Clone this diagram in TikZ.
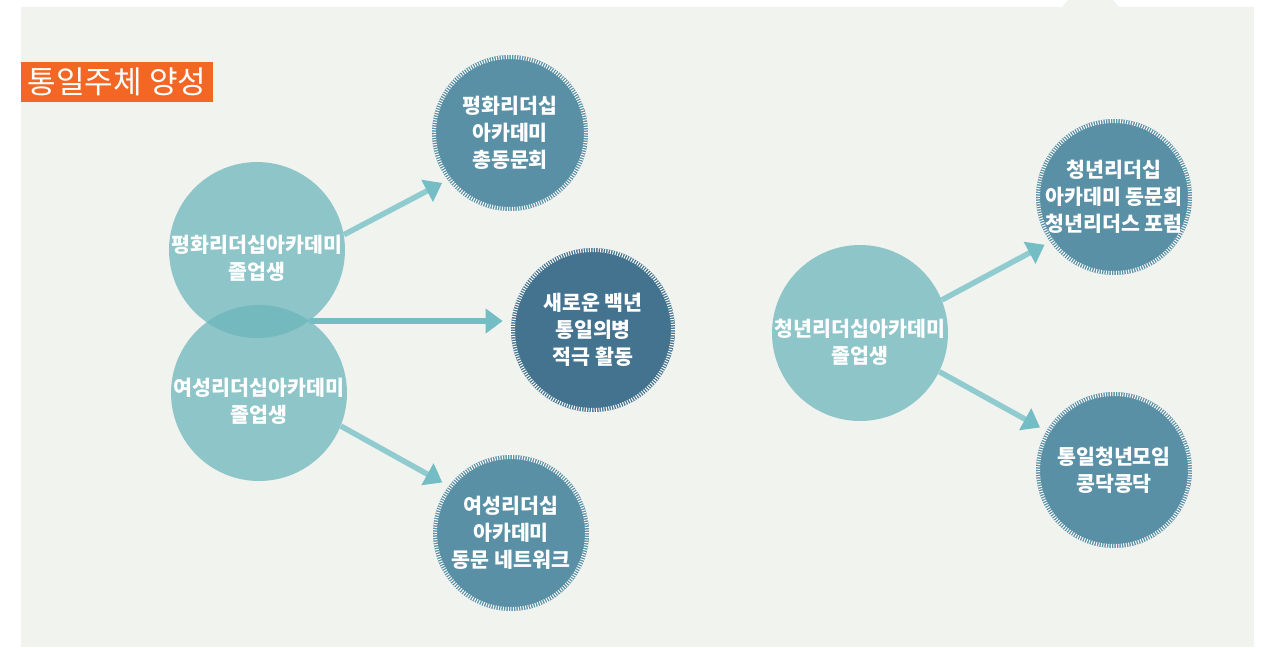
\documentclass[tikz,border=0pt]{standalone}
\usepackage{fontspec}
\newfontfamily\kr{Noto Sans CJK KR}
\usetikzlibrary{arrows.meta}
\definecolor{panelbg}{HTML}{F1F3EF}
\definecolor{titleorange}{HTML}{F36623}
\definecolor{gradfill}{RGB}{107,181,187}
\definecolor{clubfill}{HTML}{5A90A6}
\definecolor{clubdeep}{HTML}{44738F}
\definecolor{arrowline}{HTML}{8FCBCF}
\definecolor{tiphead}{HTML}{74BDC4}
\begin{document}
\begin{tikzpicture}[
    x=0.02cm, y=-0.02cm,
    grad/.style={circle, fill=gradfill, fill opacity=0.74, inner sep=0pt, minimum size=3.52cm},
    gradtext/.style={align=center, text=white, inner sep=0pt, font=\kr\bfseries\fontsize{11.7}{15.4}\selectfont},
    club/.style={circle, fill=clubfill, inner sep=-0.3cm, minimum size=2*#1, align=center, text=white, font=\kr\bfseries\fontsize{11.7}{15.4}\selectfont,
        path picture={\draw[white, line width=0.08cm, dash pattern=on 0.02cm off 0.03cm] (path picture bounding box.center) circle[radius=#1-0.04cm];}},
    club/.default=1.56cm,
    arrow/.style={-{Triangle[length=0.34cm, width=0.48cm, color=tiphead]}, line width=0.11cm, draw=arrowline}
]
    % Panel
    \useasboundingbox (0,0) rectangle (1264,647);
    \fill[white] (0,0) rectangle (1264,647);
    \fill[panelbg] (21,7) rectangle (1254,647);
    \fill[panelbg] (1062,7) -- (1068,0) -- (1113,0) -- (1119,7) -- cycle;

    % Title
    \node[fill=titleorange, text=white, minimum width=3.84cm, minimum height=0.8cm, inner sep=0pt, font=\kr\fontsize{17.7}{20}\selectfont] (title) at (117,82) {통일주체 양성};

    % Graduates
    \node[grad] (pg1) at (257,250) {};
    \node[grad] (pg2) at (259,393) {};
    \node[grad] (pg3) at (860,333) {};
    \node[gradtext] (pg1t) at (257,258) {평화리더십아카데미\\졸업생};
    \node[gradtext] (pg2t) at (259,401) {여성리더십아카데미\\졸업생};
    \node[gradtext] (pg3t) at (860,342) {청년리더십아카데미\\졸업생};

    % Activities
    \node[club] (pc1) at (510,133) {평화리더십\\아카데미\\총동문회};
    \node[club=1.64cm, fill=clubdeep] (pc2) at (593,330) {새로운 백년\\통일의병\\적극 활동};
    \node[club] (pc3) at (511,533) {여성리더십\\아카데미\\동문 네트워크};
    \node[club] (pr1) at (1114,197) {청년리더십\\아카데미 동문회\\청년리더스 포럼};
    \node[club] (pr2) at (1114,470) {통일청년모임\\콩닥콩닥};

    % Arrows
    \coordinate (meet) at (309,321);
    \draw[arrow, shorten >=0.12cm] (pg1.10) -- (pc1.217);
    \draw[arrow, draw=tiphead, shorten >=0.16cm] (meet) -- (meet -| pc2.west);
    \draw[arrow, shorten >=0.14cm] (pg2.-22) -- (pc3.143);
    \draw[arrow, shorten >=0.12cm] (pg3.22) -- (pr1.215);
    \draw[arrow, shorten >=0.14cm] (pg3.-26) -- (pr2.150);
\end{tikzpicture}
\end{document}
